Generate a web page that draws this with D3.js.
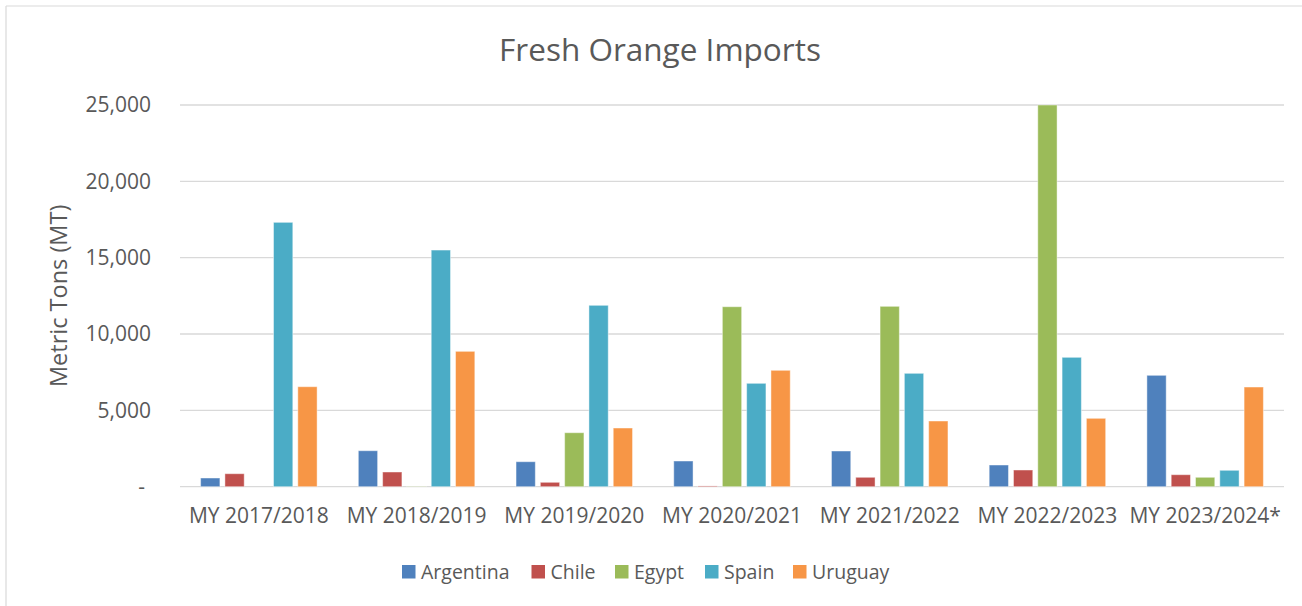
<!DOCTYPE html>
<html>
<head>
<meta charset="utf-8">
<script src="https://cdn.jsdelivr.net/npm/d3@7"></script>
<style>
  html, body { margin: 0; padding: 0; background: #fff; }
  svg { display: block; font-family: "Open Sans", "Noto Sans", sans-serif; }
</style>
</head>
<body>
<svg id="chart" width="1302" height="606"></svg>
<script>
const categories = ["MY 2017/2018", "MY 2018/2019", "MY 2019/2020", "MY 2020/2021", "MY 2021/2022", "MY 2022/2023", "MY 2023/2024*"];
const seriesNames = ["Argentina", "Chile", "Egypt", "Spain", "Uruguay"];
const seriesColors = ["#4F81BD", "#C0504D", "#9BBB59", "#4BACC6", "#F79646"];
const argentina = [570, 2357, 1637, 1683, 2338, 1421, 7295];
const chile     = [851, 963, 288, 50, 616, 1094, 786];
const egypt     = [0, 20, 3536, 11788, 11814, 25000, 616];
const spain     = [17315, 15500, 11880, 6771, 7426, 8474, 1074];
const uruguay   = [6549, 8866, 3844, 7623, 4303, 4479, 6529];
const yTicks = [0, 5000, 10000, 15000, 20000, 25000];
const titleText = "Fresh Orange Imports";
const yAxisTitle = "Metric Tons (MT)";

const seriesValues = [argentina, chile, egypt, spain, uruguay];
const series = seriesNames.map((name, i) => ({ name, color: seriesColors[i], values: seriesValues[i] }));

const svg = d3.select("#chart");
const textColor = "#595959";

// chart border (left & top visible)
svg.append("line").attr("x1", 6).attr("x2", 6).attr("y1", 6).attr("y2", 606).attr("stroke", "#d9d9d9").attr("stroke-width", 1.2);
svg.append("line").attr("x1", 6).attr("x2", 1302).attr("y1", 6).attr("y2", 6).attr("stroke", "#d9d9d9").attr("stroke-width", 1.2);

const plot = { left: 180, right: 1284, top: 105, bottom: 486.7 };

const y = d3.scaleLinear().domain([0, 25000]).range([plot.bottom, plot.top]);
const x0 = d3.scaleBand().domain(categories).range([plot.left, plot.right]).padding(0);
const groupSpan = 121.5;
const x1 = d3.scaleBand().domain(seriesNames)
  .range([(x0.bandwidth() - groupSpan) / 2, (x0.bandwidth() + groupSpan) / 2])
  .paddingInner(0.206).paddingOuter(0.103);

// gridlines
svg.append("g").selectAll("line").data(yTicks).join("line")
  .attr("x1", plot.left).attr("x2", plot.right)
  .attr("y1", d => y(d)).attr("y2", d => y(d))
  .attr("stroke", "#d9d9d9").attr("stroke-width", 1.3);

// y axis labels
const fmt = d3.format(",");
const yAxis = d3.axisLeft(y).tickValues(yTicks).tickSize(0).tickPadding(0)
  .tickFormat(d => d === 0 ? "-" : fmt(d));
const yg = svg.append("g").attr("transform", `translate(151,0)`).call(yAxis);
yg.select(".domain").remove();
yg.selectAll("text").attr("fill", textColor).attr("font-size", 21)
  .attr("font-family", "'Open Sans', sans-serif")
  .attr("dx", d => d === 0 ? -6 : 0);

// y axis title
svg.append("text")
  .attr("transform", `translate(67,${(plot.top + plot.bottom) / 2}) rotate(-90)`)
  .attr("text-anchor", "middle").attr("fill", textColor).attr("font-size", 23.5)
  .text(yAxisTitle);

// x axis labels
const xAxis = d3.axisBottom(x0).tickSize(0).tickPadding(0);
const xg = svg.append("g").attr("transform", `translate(0,${plot.bottom + 21})`).call(xAxis);
xg.select(".domain").remove();
xg.selectAll("text").attr("fill", textColor).attr("font-size", 21)
  .attr("font-family", "'Open Sans', sans-serif").attr("dy", "0.75em");

// bars
const groups = svg.append("g").selectAll("g").data(categories).join("g")
  .attr("transform", d => `translate(${x0(d)},0)`);
groups.selectAll("rect")
  .data((c, ci) => series.map(s => ({ name: s.name, color: s.color, value: s.values[ci] })))
  .join("rect")
  .attr("x", d => x1(d.name))
  .attr("width", x1.bandwidth())
  .attr("y", d => y(d.value))
  .attr("height", d => Math.max(0, y(0) - y(d.value)))
  .attr("fill", d => d.color)
  .attr("stroke", "#ffffff").attr("stroke-opacity", 0.45).attr("stroke-width", 1);

// title
svg.append("text").attr("x", 660).attr("y", 61).attr("text-anchor", "middle")
  .attr("fill", textColor).attr("font-size", 31.5).text(titleText);

// legend
const legendX = [402, 531.5, 615, 705, 793];
const legend = svg.append("g").selectAll("g").data(series).join("g")
  .attr("transform", (d, i) => `translate(${legendX[i]},565)`);
legend.append("rect").attr("width", 13.5).attr("height", 13.5).attr("fill", d => d.color);
legend.append("text").attr("x", 19).attr("y", 7).attr("dy", "0.36em")
  .attr("fill", textColor).attr("font-size", 19.5).text(d => d.name);
</script>
</body>
</html>
